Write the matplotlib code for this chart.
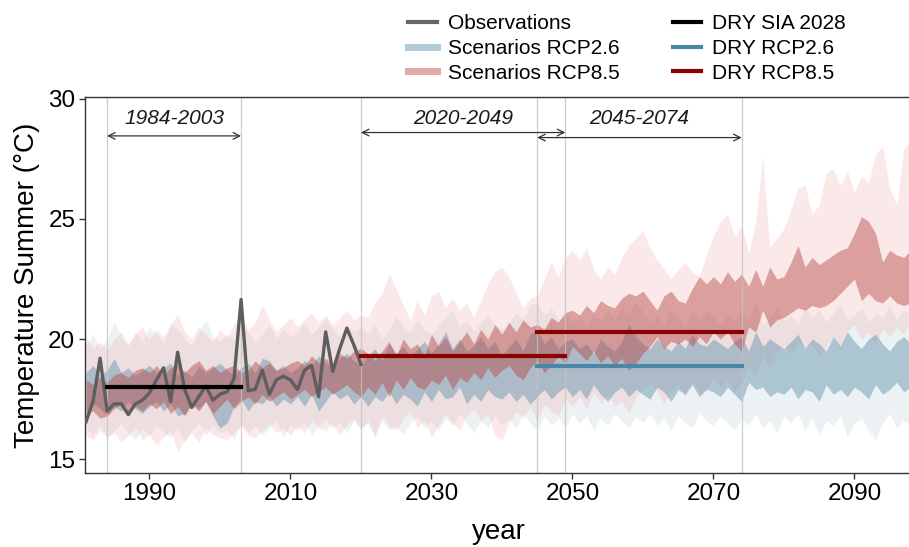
import matplotlib.pyplot as plt
from matplotlib.lines import Line2D

plt.rcParams['font.family'] = ['Liberation Sans', 'DejaVu Sans']

# ---- data ----
obs_years = list(range(1981, 2021))
obs_temp = [16.55, 17.4, 19.2, 17.0, 17.3, 17.3, 16.85, 17.3, 17.45, 17.75,
            18.3, 18.8, 17.4, 19.45, 17.9, 17.15, 17.6, 18.05, 17.45, 17.7,
            17.8, 18.35, 21.65, 17.85, 17.9, 18.7, 17.7, 18.3, 18.45, 18.3,
            17.9, 18.7, 18.9, 17.6, 20.3, 18.65, 19.6, 20.45, 19.75, 18.95]

years = list(range(1981, 2099))

# RCP8.5 inner band (darker red)
rcp85_in_hi = [18.3, 18.1, 18.4, 18.2, 18.5, 18.6, 18.4, 18.7, 18.8, 18.6,
               18.9, 18.5, 18.8, 19.0, 18.6, 18.9, 19.1, 18.7, 18.9, 18.6,
               18.8, 18.9, 18.6, 18.7, 19.1, 18.8, 19.0, 18.7, 18.8, 19.0,
               19.1, 18.9, 19.3, 19.0, 19.2, 18.9, 19.4, 19.2, 19.5, 19.6,
               19.4, 19.1, 19.5, 19.9, 19.3, 20.0, 19.6, 19.8, 19.3, 20.2,
               19.7, 20.1, 19.5, 19.9, 20.3, 19.8, 20.4, 20.0, 20.6, 20.2,
               20.7, 20.3, 20.8, 20.5, 20.6, 20.4, 20.9, 20.7, 21.1, 21.2,
               21.0, 21.4, 21.1, 21.6, 21.4, 21.3, 21.7, 21.9, 21.8, 22.0,
               21.6, 21.2, 21.8, 22.0, 21.6, 21.5, 22.1, 22.6, 22.3, 22.6,
               22.3, 22.8, 22.4, 22.7, 22.2, 22.9, 22.2, 23.0, 22.5, 22.6,
               23.2, 23.9, 23.0, 23.4, 23.1, 23.3, 23.5, 23.7, 23.8, 24.4,
               25.1, 24.9, 24.4, 23.2, 23.7, 23.5, 23.4, 23.7]
rcp85_in_lo = [16.9, 17.0, 16.7, 16.8, 17.1, 17.3, 16.9, 17.2, 17.0, 17.3,
               17.1, 17.4, 16.9, 17.2, 16.8, 17.3, 17.0, 17.4, 16.9, 17.2,
               17.5, 17.1, 17.4, 17.6, 17.3, 17.7, 17.4, 17.6, 17.8, 17.5,
               17.7, 17.9, 17.6, 17.8, 18.0, 17.7, 17.9, 18.1, 17.8, 17.6,
               18.0, 17.7, 18.2, 17.6, 18.3, 17.9, 18.4, 18.0, 17.9, 18.3,
               18.1, 18.5, 17.9, 18.4, 18.2, 18.6, 18.3, 18.8, 18.4, 18.7,
               18.9, 18.5, 18.3, 18.8, 19.1, 18.6, 18.9, 19.3, 19.0, 19.7,
               19.4, 19.1, 19.5, 19.0, 19.3, 18.9, 19.2, 18.7, 19.0, 19.4,
               19.7, 20.1, 19.6, 19.9, 19.8, 20.0, 19.7, 20.1, 19.8, 20.3,
               20.0, 20.3, 19.8, 19.5, 20.5, 20.3, 21.2, 20.5, 20.8, 20.9,
               21.1, 21.3, 21.2, 21.4, 21.3, 21.4, 21.6, 21.9, 22.2, 22.5,
               21.6, 21.9, 21.6, 21.5, 21.8, 21.5, 21.4, 21.5]

# RCP8.5 outer band (light pink)
rcp85_out_hi = [20.1, 19.6, 19.9, 19.5, 20.0, 20.3, 19.8, 20.2, 20.5, 20.0,
                20.4, 20.1, 20.6, 21.0, 20.3, 20.0, 20.5, 20.2, 19.9, 20.4,
                20.1, 20.6, 21.1, 20.4, 20.7, 21.4, 20.8, 20.3, 20.6, 20.9,
                20.5, 20.8, 21.1, 20.7, 21.0, 20.6, 20.9, 21.2, 20.8, 21.0,
                20.9, 21.5, 21.9, 22.7, 22.1, 21.4, 20.8, 21.6, 21.0, 21.8,
                22.0, 21.3, 21.7, 21.2, 21.5, 20.9, 21.6, 22.3, 22.8, 23.0,
                22.6, 21.9, 21.3, 21.7, 21.8, 22.5, 23.2, 22.6, 23.4, 23.7,
                23.3, 23.8, 22.9, 22.5, 23.0, 22.7, 23.4, 23.9, 24.2, 24.5,
                23.8, 23.3, 22.9, 22.5, 22.9, 23.2, 22.8, 22.6, 23.5, 24.3,
                24.9, 25.2, 24.3, 24.7, 23.6, 24.9, 27.6, 23.8, 24.2, 24.6,
                25.4, 26.3, 26.4, 25.2, 25.6, 26.9, 27.1, 26.4, 27.0, 26.1,
                26.8, 26.5, 27.7, 28.0, 26.3, 25.6, 27.9, 28.3]
rcp85_out_lo = [16.0, 15.8, 16.2, 15.9, 16.1, 15.7, 16.0, 16.3, 15.8, 16.0,
                15.6, 15.9, 16.2, 15.3, 15.8, 16.1, 15.7, 16.3, 16.0, 15.9,
                15.8, 16.1, 16.4, 16.0, 15.9, 16.2, 16.5, 16.1, 16.3, 16.0,
                16.4, 16.1, 16.6, 16.3, 16.2, 16.5, 16.0, 16.4, 16.7, 16.2,
                16.6, 16.0, 16.8, 16.4, 16.2, 16.7, 17.0, 16.3, 16.6, 15.9,
                16.4, 16.9, 16.5, 16.2, 16.8, 17.1, 16.6, 16.9, 16.0, 15.8,
                16.5, 17.0, 16.7, 17.2, 16.6, 17.3, 17.0, 16.8, 17.5, 17.2,
                17.6, 17.1, 17.8, 17.3, 17.7, 17.2, 17.4, 16.9, 17.6, 17.9,
                18.2, 17.8, 17.3, 17.9, 18.1, 17.6, 18.3, 17.7, 17.9, 18.4,
                18.0, 18.3, 17.8, 18.2, 18.9, 18.5, 19.3, 18.8, 19.5, 19.7,
                19.4, 19.9, 19.6, 19.8, 19.3, 19.7, 20.1, 19.5, 20.3, 20.6,
                20.0, 20.3, 19.8, 20.4, 20.1, 20.5, 20.2, 20.8]

# RCP2.6 inner band (blue)
rcp26_in_hi = [18.6, 18.9, 18.5, 18.7, 19.2, 18.6, 18.8, 18.5, 18.7, 18.9,
               18.6, 18.8, 19.0, 18.5, 18.7, 18.4, 18.9, 18.6, 18.8, 19.0,
               18.7, 18.5, 18.8, 19.0, 18.6, 19.2, 19.1, 18.7, 18.9, 18.6,
               18.8, 19.1, 18.9, 19.3, 19.0, 18.8, 19.2, 19.4, 19.1, 18.9,
               19.3, 19.6, 19.1, 19.8, 19.4, 19.7, 19.2, 19.6, 19.9, 19.4,
               19.8, 20.3, 19.6, 20.0, 19.5, 19.7, 20.1, 19.6, 19.9, 19.3,
               19.7, 20.0, 19.5, 20.2, 20.4, 19.8, 20.1, 19.6, 19.9, 20.0,
               19.6, 19.8, 19.4, 20.0, 19.7, 19.5, 19.9, 20.6, 20.1, 19.8,
               19.6, 20.0, 19.7, 19.5, 19.9, 19.6, 20.2, 19.8, 19.7, 20.0,
               19.8, 19.6, 19.9, 20.1, 19.5, 20.3, 19.7, 20.0, 19.8, 19.6,
               19.9, 20.2, 19.6, 20.0, 19.8, 19.5, 20.1, 19.7, 20.3, 19.9,
               19.6, 20.0, 20.2, 19.8, 19.5, 19.9, 20.1, 19.8]
rcp26_in_lo = [17.0, 17.3, 17.1, 16.8, 17.2, 17.0, 17.4, 17.1, 16.9, 17.2,
               17.4, 17.0, 17.3, 16.8, 16.9, 17.3, 17.1, 17.4, 16.8, 16.3,
               16.5, 17.2, 17.5, 17.0, 17.4, 17.3, 17.6, 17.2, 17.5, 17.3,
               17.6, 17.2, 17.7, 17.0, 17.4, 17.8, 17.5, 17.7, 17.3, 17.6,
               17.2, 17.6, 17.4, 17.8, 17.3, 17.7, 17.5, 17.2, 17.8, 17.4,
               17.9, 17.5, 17.6, 18.0, 17.3, 17.7, 17.4, 17.9, 17.6, 17.5,
               17.8, 17.4, 17.7, 17.3, 17.6, 17.9, 17.5, 17.8, 18.0, 17.6,
               17.9, 17.5, 18.1, 17.7, 17.4, 17.8, 18.0, 17.6, 17.9, 17.7,
               17.5, 18.0, 17.8, 17.4, 17.9, 17.7, 18.1, 17.6, 17.9, 17.8,
               17.6, 18.0, 17.7, 17.4, 18.2, 17.9, 18.0, 17.6, 17.8, 17.7,
               18.0, 17.5, 17.9, 17.8, 17.4, 18.1, 17.7, 17.9, 17.6, 18.0,
               17.8, 17.5, 18.1, 17.7, 17.9, 18.2, 17.8, 18.0]

# RCP2.6 outer band (very light blue)
rcp26_out_hi = [19.8, 20.2, 19.6, 20.0, 20.7, 20.1, 19.7, 20.3, 19.9, 20.5,
                20.2, 19.8, 20.6, 20.4, 20.0, 19.7, 20.3, 20.8, 20.1, 19.9,
                20.2, 20.0, 20.5, 20.3, 19.9, 20.2, 20.6, 20.0, 20.4, 20.1,
                20.3, 20.7, 20.2, 20.5, 20.9, 20.4, 20.1, 20.6, 20.3, 20.5,
                20.2, 20.6, 20.0, 20.4, 21.0, 20.5, 20.3, 20.8, 20.4, 20.2,
                20.6, 20.9, 21.2, 20.5, 20.8, 20.3, 20.7, 21.0, 20.6, 20.4,
                20.7, 21.1, 20.8, 21.4, 21.5, 21.0, 21.3, 20.8, 21.1, 20.7,
                20.9, 20.5, 21.0, 20.7, 21.2, 20.8, 21.4, 21.0, 21.6, 21.1,
                20.7, 21.0, 20.6, 21.3, 20.9, 20.5, 21.1, 20.8, 21.2, 20.9,
                20.6, 21.0, 20.7, 21.2, 20.8, 21.5, 20.6, 20.9, 21.3, 20.8,
                21.0, 20.6, 21.4, 20.9, 21.2, 20.7, 21.1, 21.5, 20.8, 21.0,
                21.3, 20.7, 21.1, 20.9, 21.4, 20.8, 21.2, 21.0]
rcp26_out_lo = [16.3, 16.0, 16.4, 15.9, 16.2, 16.5, 16.1, 15.8, 16.3, 16.0,
                16.4, 16.1, 15.9, 16.3, 15.7, 16.2, 16.5, 16.0, 16.4, 16.1,
                16.2, 15.8, 16.5, 16.1, 16.4, 16.0, 16.3, 16.6, 15.9, 16.4,
                16.2, 16.5, 16.0, 16.4, 16.7, 16.3, 16.5, 16.1, 16.6, 16.3,
                16.5, 15.9, 16.6, 16.2, 16.4, 16.0, 16.5, 16.8, 16.3, 16.6,
                16.2, 16.7, 16.4, 16.9, 16.5, 16.1, 16.6, 16.3, 16.8, 16.4,
                16.7, 16.3, 16.9, 16.5, 16.2, 16.8, 16.4, 16.7, 16.3, 16.9,
                16.5, 16.8, 16.2, 16.7, 16.4, 16.9, 16.6, 16.3, 16.8, 16.5,
                16.9, 16.4, 16.7, 16.2, 16.8, 16.5, 16.3, 16.9, 16.6, 16.4,
                16.8, 16.5, 16.2, 16.7, 16.4, 16.9, 16.3, 16.6, 16.1, 16.8,
                16.5, 16.9, 16.2, 16.7, 16.0, 16.6, 16.4, 16.8, 15.9, 16.5,
                16.7, 16.2, 15.8, 16.5, 16.9, 16.3, 16.6, 16.4]

# reference-period means (start, end, value)
dry_sia = (1984, 2003, 18.0)
dry_rcp85 = [(2020, 2049, 19.3), (2045, 2074, 20.3)]
dry_rcp26 = [(2045, 2074, 18.88)]
periods = [(1984, 2003, '1984-2003'), (2020, 2049, '2020-2049'), (2045, 2074, '2045-2074')]

# ---- plot ----
fig = plt.figure(figsize=(9.09, 5.47), dpi=100)
ax = fig.add_axes([85 / 909, 1 - 473 / 547, (912 - 85) / 909, (473 - 97) / 547])

ax.fill_between(years, rcp26_out_lo, rcp26_out_hi, color='#b7cbd3', alpha=0.25, lw=0)
ax.fill_between(years, rcp85_out_lo, rcp85_out_hi, color='#f3a7a7', alpha=0.25, lw=0)
ax.fill_between(years, rcp26_in_lo, rcp26_in_hi, color='#5f90ab', alpha=0.45, lw=0)
ax.fill_between(years, rcp85_in_lo, rcp85_in_hi, color='#b44644', alpha=0.45, lw=0)

for x in [1984, 2003, 2020, 2045, 2049, 2074]:
    ax.axvline(x, color='#c4c4c4', lw=0.9, alpha=0.8, zorder=2)

ax.plot(obs_years, obs_temp, color='#5e5e5e', lw=2.4, zorder=4)
ax.plot(dry_sia[:2], [dry_sia[2]] * 2, color='black', lw=3, zorder=5)
for s, e, v in dry_rcp85:
    ax.plot([s, e], [v, v], color='#8b0000', lw=3, zorder=5)
for s, e, v in dry_rcp26:
    ax.plot([s, e], [v, v], color='#4a86a6', lw=3, zorder=5)

arrow_y = [28.46, 28.6, 28.39]
for (s, e, lab), ay in zip(periods, arrow_y):
    ax.annotate('', xy=(e, ay), xytext=(s, ay),
                arrowprops=dict(arrowstyle='<->', color='#333333', lw=0.9,
                                shrinkA=0, shrinkB=0, mutation_scale=12))
    ax.text((s + e) / 2, 29.2, lab, ha='center', va='center',
            fontsize=15, style='italic', color='#1a1a1a')

ax.set_xlim(1980.86, 2098.17)
ax.set_ylim(14.42, 30.08)
ax.set_xticks([1990, 2010, 2030, 2050, 2070, 2090])
ax.set_yticks([15, 20, 25, 30])
ax.tick_params(labelsize=17.5, length=4, width=1, color='#333333', labelcolor='black', pad=3)
for sp in ax.spines.values():
    sp.set_color('#333333')
    sp.set_linewidth(1)
ax.set_xlabel('year', fontsize=20, labelpad=10)
ax.set_ylabel('Temperature Summer (°C)', fontsize=20, labelpad=6)

handles = [
    Line2D([], [], color='#666666', lw=3),
    Line2D([], [], color='#b3cbd9', lw=5),
    Line2D([], [], color='#e3a9a9', lw=5),
    Line2D([], [], color='black', lw=3),
    Line2D([], [], color='#4a86a6', lw=3),
    Line2D([], [], color='#8b0000', lw=3),
]
labels = ['Observations', 'Scenarios RCP2.6', 'Scenarios RCP8.5',
          'DRY SIA 2028', 'DRY RCP2.6', 'DRY RCP8.5']
fig.legend(handles, labels, ncol=2, loc='upper left',
           bbox_to_anchor=(398 / 909, 1 - 4 / 547), frameon=False,
           fontsize=15, handlelength=1.35, handletextpad=0.55,
           columnspacing=2.55, labelspacing=0.27, borderpad=0)

fig.savefig('out.png', dpi=100)
